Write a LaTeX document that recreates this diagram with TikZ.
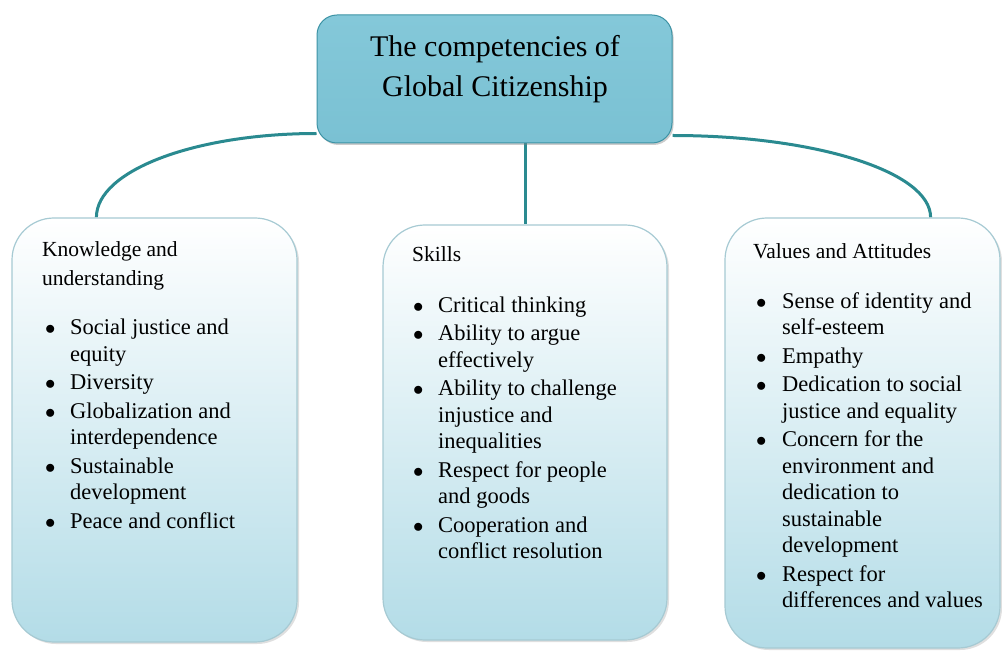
\documentclass[tikz,border=0pt]{standalone}
\usepackage{fontspec}
\setmainfont{Liberation Serif}
\usetikzlibrary{positioning,shadows,backgrounds}

\definecolor{linkteal}{HTML}{2A8A90}
\definecolor{boxblue}{HTML}{B3DCE7}
\definecolor{boxmid}{HTML}{E4F2F6}
\definecolor{boxedge}{HTML}{A6CAD3}
\definecolor{titletop}{HTML}{84C8D9}
\definecolor{titlemid}{HTML}{AEDBE6}
\definecolor{titlebot}{HTML}{7AC1D3}
\definecolor{titleedge}{HTML}{3D93A5}

\newcommand{\hdfont}{\fontsize{21.5}{26.5}\selectfont}
\newcommand{\bul}[1]{\hspace*{#1}$\bullet$}

\begin{document}
\begin{tikzpicture}[x=1pt,y=-1pt,
    titlebox/.style={rectangle, rounded corners=20pt, draw=titleedge, line width=1pt,
      top color=titletop, middle color=titlemid, bottom color=titlebot,
      drop shadow={opacity=0.4, shadow xshift=1.5pt, shadow yshift=-2pt}},
    compbox/.style={rectangle, rounded corners=42pt, draw=boxedge, line width=1.2pt,
      top color=white, middle color=boxmid, bottom color=boxblue,
      drop shadow={opacity=0.25, shadow xshift=2pt, shadow yshift=-2pt}},
    titletext/.style={inner sep=0pt, font=\fontsize{30}{40}\selectfont},
    listtext/.style={inner sep=0pt, font=\fontsize{22.5}{26.5}\selectfont},
    link/.style={draw=linkteal, line width=3pt}]
\useasboundingbox (0,0) rectangle (1002,660);

% boxes
\node[titlebox, minimum width=355pt, minimum height=128pt] (title) at (494.5,79) {};
\node[compbox, minimum width=285pt, minimum height=424pt] (ku) at (154.5,430) {};
\node[compbox, minimum width=284pt, minimum height=415pt] (sk) at (525,432.5) {};
\node[compbox, minimum width=275pt, minimum height=430pt] (va) at (862.5,433) {};

% texts
\node[titletext, anchor=base] (titlelbl) at (495,57) {\begin{tabular}[t]{@{}c@{}}
The competencies of\\
Global Citizenship
\end{tabular}};

\node[listtext, anchor=base west] (kulist) at (42,257) {\begin{tabular}[t]{@{}p{28pt}@{}l@{}}
\multicolumn{2}{@{}l@{}}{\hdfont Knowledge and}\\[2.5pt]
\multicolumn{2}{@{}l@{}}{\hdfont understanding}\\[22.5pt]
\bul{3pt} & Social justice and\\
 & equity\\[2pt]
\bul{3pt} & Diversity\\[2pt]
\bul{3pt} & Globalization and\\
 & interdependence\\[2pt]
\bul{3pt} & Sustainable\\
 & development\\[2pt]
\bul{3pt} & Peace and conflict
\end{tabular}};

\node[listtext, anchor=base west] (sklist) at (412,262) {\begin{tabular}[t]{@{}p{26pt}@{}l@{}}
\multicolumn{2}{@{}l@{}}{\hdfont Skills}\\[24pt]
\bul{1pt} & Critical thinking\\[2pt]
\bul{1pt} & Ability to argue\\
 & effectively\\[2pt]
\bul{1pt} & Ability to challenge\\
 & injustice and\\
 & inequalities\\[2pt]
\bul{1pt} & Respect for people\\
 & and goods\\[2pt]
\bul{1pt} & Cooperation and\\
 & conflict resolution
\end{tabular}};

\node[listtext, anchor=base west] (valist) at (753,259) {\begin{tabular}[t]{@{}p{29pt}@{}l@{}}
\multicolumn{2}{@{}l@{}}{\hdfont Values and Attitudes}\\[23pt]
\bul{3pt} & Sense of identity and\\
 & self-esteem\\[2pt]
\bul{3pt} & Empathy\\[2pt]
\bul{3pt} & Dedication to social\\
 & justice and equality\\[2pt]
\bul{3pt} & Concern for the\\
 & environment and\\
 & dedication to\\
 & sustainable\\
 & development\\[2pt]
\bul{3pt} & Respect for\\
 & differences and values
\end{tabular}};

% connectors
\begin{scope}[on background layer]
\fill[white] (0,0) rectangle (1002,660);
\draw[link] ([yshift=10pt]title.south west) .. controls +(-121,0) and +(0,-47) .. ([xshift=85pt]ku.north west);
\draw[link] ([yshift=8pt]title.south east) .. controls +(142,0) and +(0,-46) .. ([xshift=-70pt]va.north east);
\draw[link] (sk.north |- title.south) -- (sk.north);
\end{scope}
\end{tikzpicture}
\end{document}
